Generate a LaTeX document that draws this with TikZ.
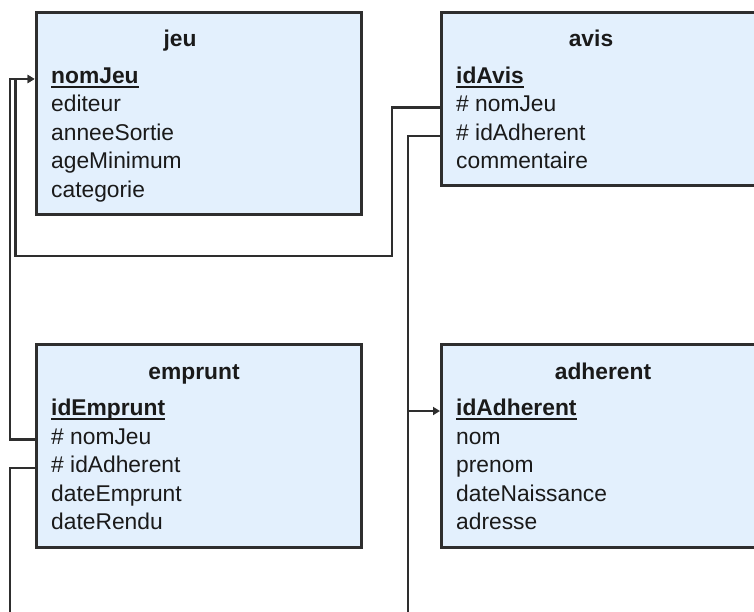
\documentclass[tikz,border=0pt]{standalone}
\usepackage{fontspec}
\setmainfont{Liberation Sans}
\usetikzlibrary{arrows.meta}
\definecolor{myline}{HTML}{2E2E2E}
\definecolor{myfill}{HTML}{E3F0FD}
\definecolor{mytext}{HTML}{1A1A1A}
\newcommand\tabfont{\fontsize{22.8}{27}\selectfont}
\newcommand\pkey[1]{\setbox0\hbox{\bfseries #1}\rlap{\rule[-4.5pt]{\wd0}{2pt}}\box0}

\begin{document}
\begin{tikzpicture}[x=1pt,y=-1pt,>={Triangle[length=7pt,width=8pt]},
  table/.style={draw=myline, line width=3pt, fill=myfill, inner sep=0, anchor=north west},
  title/.style={font=\tabfont\bfseries, text=mytext, anchor=base, inner sep=0},
  row/.style={font=\tabfont, text=mytext, anchor=base west, inner sep=0, text height=15pt, text depth=6pt},
  link/.style={draw=myline, line width=2.6pt}]
\useasboundingbox (0,0) rectangle (754,612);
\clip (0,0) rectangle (754,612);
% tables
\node[table, minimum width=325.5pt, minimum height=202pt] (jeu) at (34.5,11) {};
\node[table, minimum width=360pt, minimum height=173pt] (avis) at (440,11) {};
\node[table, minimum width=325.5pt, minimum height=203pt] (emprunt) at (34.5,343) {};
\node[table, minimum width=360pt, minimum height=203pt] (adherent) at (440,343) {};
% titles
\node[title] (jeuT) at (180,47) {jeu};
\node[title] (avisT) at (591,47) {avis};
\node[title] (empruntT) at (194,379) {emprunt};
\node[title] (adherentT) at (603,379) {adherent};
% jeu
\node[row] (jeuNom) at (51,83.5) {\pkey{nomJeu}};
\node[row] (jeuEdit) at (51,112) {editeur};
\node[row] (jeuAnnee) at (51,140.5) {anneeSortie};
\node[row] (jeuAge) at (51,169) {ageMinimum};
\node[row] (jeuCat) at (51,197.5) {categorie};
% avis
\node[row] (avisKey) at (456,83.5) {\pkey{idAvis}};
\node[row] (avisJeu) at (456,112) {\# nomJeu};
\node[row] (avisAdh) at (456,140.5) {\# idAdherent};
\node[row] (avisCom) at (456,169) {commentaire};
% emprunt
\node[row] (empruntKey) at (51,415.5) {\pkey{idEmprunt}};
\node[row] (empruntJeu) at (51,444) {\# nomJeu};
\node[row] (empruntAdh) at (51,472.5) {\# idAdherent};
\node[row] (empruntDate) at (51,501) {dateEmprunt};
\node[row] (empruntRendu) at (51,529.5) {dateRendu};
% adherent
\node[row] (adherentKey) at (456,415.5) {\pkey{idAdherent}};
\node[row] (adherentNom) at (456,444) {nom};
\node[row] (adherentPre) at (456,472.5) {prenom};
\node[row] (adherentNaiss) at (456,501) {dateNaissance};
\node[row] (adherentAdr) at (456,529.5) {adresse};
% bends
\coordinate (bendA) at (392,256);
\coordinate (bendB) at (15.5,256);
\coordinate (railL) at (10,300);
\coordinate (railM) at (408,300);
\coordinate (downL) at (10,620);
\coordinate (downM) at (408,620);
% links
\draw[link,->] (avis.west |- avisJeu) -| (bendA) -- (bendB) |- (jeu.west |- jeuNom);
\draw[link,->] (emprunt.west |- empruntJeu) -| (railL) |- (jeu.west |- jeuNom);
\draw[link] (emprunt.west |- empruntAdh) -| (downL);
\draw[link,->] (avis.west |- avisAdh) -| (railM) |- (adherent.west |- adherentKey);
\draw[link] (railM |- adherentKey) -- (downM);
\end{tikzpicture}
\end{document}
